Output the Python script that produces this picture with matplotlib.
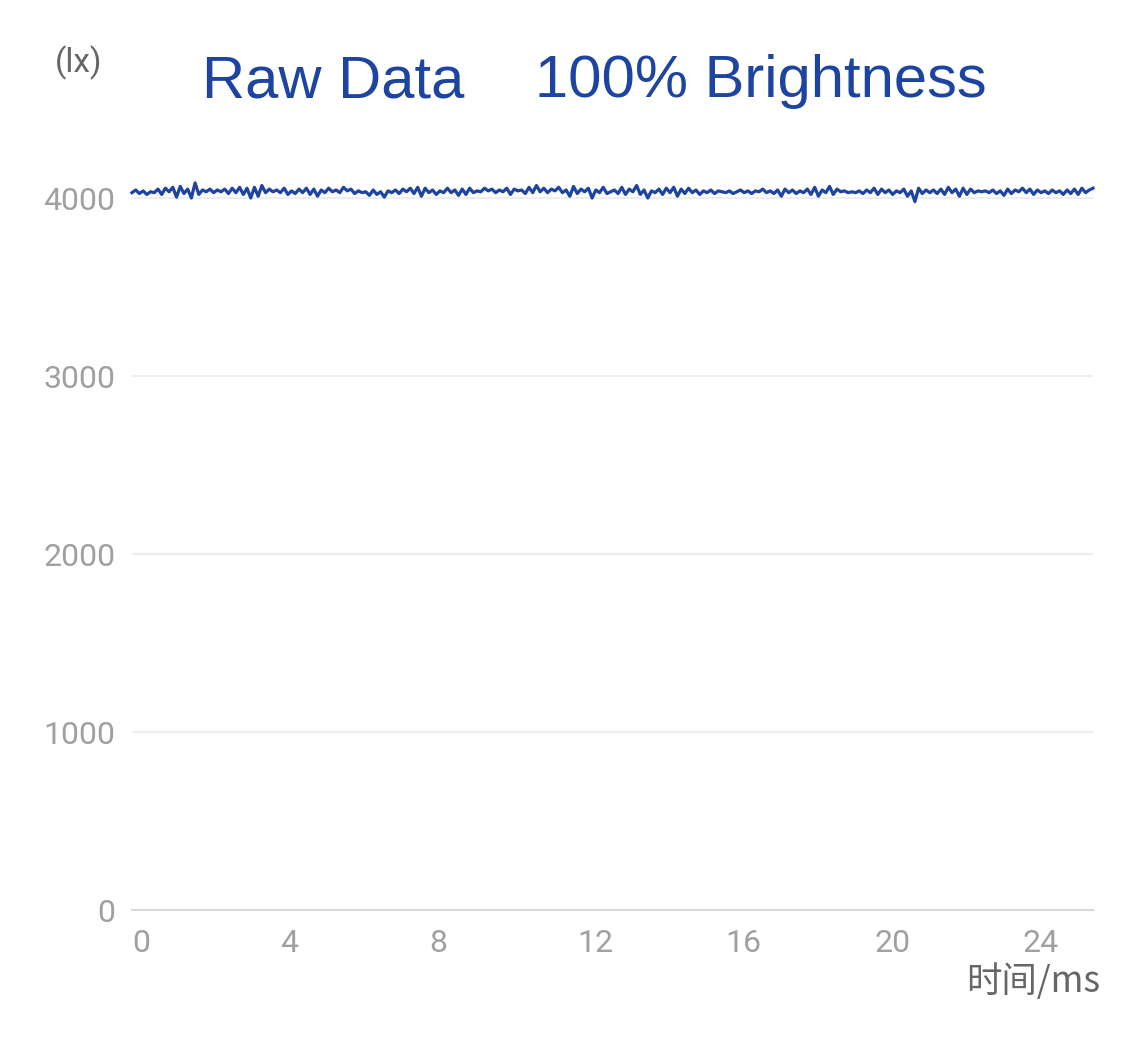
import matplotlib
matplotlib.use("Agg")
import matplotlib.pyplot as plt
import numpy as np

# ---- data ----
seg1 = [4030, 4045, 4025, 4040, 4020, 4035, 4030, 4050, 4020, 4055, 4035, 4060, 4005, 4065, 4025, 4050, 4000, 4085, 4020, 4045, 4035, 4050, 4030, 4045, 4035, 4050, 4025, 4055, 4030, 4060, 4020, 4055, 4000, 4060, 4010, 4070, 4030, 4050, 4035, 4045, 4030, 4055, 4020]
seg2 = [4040, 4025, 4050, 4030, 4055, 4020, 4050, 4010, 4045, 4030, 4055, 4035, 4045, 4030, 4060, 4040, 4050, 4025, 4040, 4030, 4035, 4015, 4045, 4020, 4035, 4005, 4040, 4030, 4045, 4025, 4050, 4035, 4055, 4025, 4060, 4010, 4055, 4030, 4045, 4020, 4040, 4030, 4055]
seg3 = [4030, 4045, 4015, 4050, 4020, 4055, 4030, 4040, 4035, 4055, 4040, 4050, 4030, 4045, 4035, 4055, 4020, 4050, 4040, 4045, 4025, 4060, 4030, 4070, 4035, 4055, 4030, 4050, 4040, 4060, 4030, 4045, 4010, 4065, 4025, 4050, 4035, 4055, 4000, 4045, 4030, 4060, 4025]
seg4 = [4035, 4045, 4025, 4060, 4020, 4050, 4035, 4070, 4020, 4045, 4000, 4040, 4030, 4050, 4020, 4055, 4030, 4060, 4010, 4050, 4025, 4055, 4030, 4045, 4020, 4040, 4030, 4045, 4025, 4040, 4035, 4030, 4040, 4025, 4035, 4045, 4030, 4040, 4025, 4040, 4035, 4050, 4030]
seg5 = [4040, 4025, 4045, 4010, 4050, 4030, 4045, 4025, 4040, 4030, 4050, 4020, 4060, 4010, 4045, 4030, 4065, 4020, 4050, 4035, 4040, 4030, 4035, 4030, 4040, 4025, 4045, 4030, 4055, 4020, 4050, 4030, 4045, 4020, 4040, 4030, 4050, 4010, 4040, 3980, 4055, 4025, 4045]
seg6 = [4030, 4045, 4025, 4050, 4020, 4060, 4030, 4050, 4010, 4055, 4020, 4050, 4030, 4040, 4035, 4040, 4030, 4045, 4025, 4040, 4015, 4050, 4025, 4045, 4035, 4055, 4030, 4050, 4020, 4045, 4030, 4040, 4025, 4045, 4030, 4040, 4020, 4045, 4025, 4050, 4020, 4055, 4030, 4045, 4055]
values = seg1 + seg2 + seg3 + seg4 + seg5 + seg6
sample_step_ms = 0.1
x_ticks = [0, 4, 8, 12, 16, 20, 24]
y_ticks = [0, 1000, 2000, 3000, 4000]
title_left = "Raw Data"
title_right = "100% Brightness"
y_unit = "(lx)"
x_unit = "时间/ms"

t = np.arange(len(values)) * sample_step_ms

W, H = 1125, 1040
fig = plt.figure(figsize=(W / 100, H / 100), dpi=100)
fig.patch.set_facecolor("white")

left, right, bottom = 132, 1093, 910
ymax = 4200
top = bottom - ymax * (910 - 198) / 4000
ax = fig.add_axes([left / W, 1 - bottom / H, (right - left) / W, (bottom - top) / H])
ax.set_xlim(0, t[-1])
ax.set_ylim(0, ymax)

for s in ["top", "right", "left"]:
    ax.spines[s].set_visible(False)
ax.spines["bottom"].set_color("#d8d8d8")
ax.spines["bottom"].set_linewidth(1.5)

ax.set_yticks(y_ticks)
ax.set_yticklabels([str(v) for v in y_ticks])
ax.set_xticks(x_ticks)
ax.set_xticklabels([str(v) for v in x_ticks])
ax.tick_params(axis="both", length=0, colors="#a0a0a0", labelsize=23)
ax.tick_params(axis="y", pad=12)
ax.tick_params(axis="x", pad=14)
for lbl in ax.get_xticklabels():
    lbl.set_horizontalalignment("left")
    lbl.set_fontfamily(["Roboto", "DejaVu Sans"])
for lbl in ax.get_yticklabels():
    lbl.set_fontfamily(["Roboto", "DejaVu Sans"])

for yv in y_ticks[1:]:
    ax.axhline(yv, color="#eeeeee", linewidth=1.5, zorder=0)

ax.plot(t, values, color="#1c44a0", linewidth=2.3, clip_on=False, zorder=3)

fig.text(202 / W, 1 - 97 / H, title_left, color="#1c44a0", fontsize=43,
         family=["Liberation Sans", "DejaVu Sans"], ha="left", va="baseline")
fig.text(535 / W, 1 - 97 / H, title_right, color="#1c44a0", fontsize=43,
         family=["Liberation Sans", "DejaVu Sans"], ha="left", va="baseline")
fig.text(79 / W, 1 - 63 / H, y_unit, color="#666666", fontsize=24,
         family=["Roboto", "DejaVu Sans"], ha="center", va="center")
fig.text(1100 / W, 1 - 982 / H, x_unit, color="#666666", fontsize=25.5,
         family=["Noto Sans CJK SC", "DejaVu Sans"], ha="right", va="center")

fig.savefig("out.png", dpi=100, facecolor="white")
